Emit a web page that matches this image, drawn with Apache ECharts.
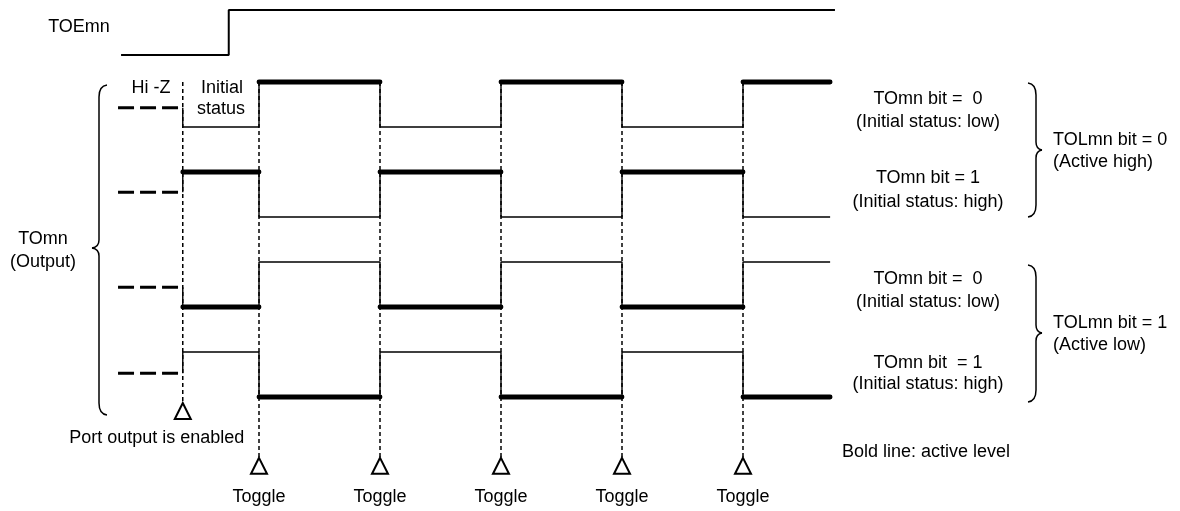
<!DOCTYPE html>
<html>
<head>
<meta charset="utf-8">
<script src="https://cdn.jsdelivr.net/npm/echarts@6/dist/echarts.min.js"></script>
<style>
  html, body { margin: 0; padding: 0; background: #fff; }
  #chart { width: 1180px; height: 511px; }
</style>
</head>
<body>
<div id="chart"></div>
<script>
// time: one toggle period = 1 unit
const toggleTimes = [1, 2, 3, 4, 5];
const enableTime = 0.37;
const endTime = 5.72;

// TOEmn: low from start, goes high at rise, stays to end
const toeTimes = [-0.14, 0.75, 5.76];
const toeLevels = [7.6, 8.6];

// the four TOmn waveforms (top to bottom)
const laneBase = [6, 4, 2, 0];
const initialLevel = [0, 1, 0, 1];
const activeLevel = [1, 1, 0, 0];
const hiZLevel = [0.43, 0.55, 0.44, 0.53];
const hiZStart = -0.165;

const FONT = '"Liberation Sans", Arial, sans-serif';

const series = [];
const addLine = (pts, style, z) => {
  series.push({
    type: 'line', data: pts, z: z, silent: true, symbol: 'none',
    lineStyle: Object.assign({ color: '#000', opacity: 1 }, style)
  });
};

// dashed guides down to the triangles
const guideTop = 7.0;
addLine([[enableTime, guideTop], [enableTime, -0.13]], { width: 1.5, type: [4, 3] }, 1);
toggleTimes.forEach(t => addLine([[t, guideTop], [t, -1.36]], { width: 1.5, type: [4, 3] }, 1));

// TOEmn
addLine([
  [toeTimes[0], toeLevels[0]], [toeTimes[1], toeLevels[0]],
  [toeTimes[1], toeLevels[1]], [toeTimes[2], toeLevels[1]]
], { width: 2 }, 3);

// waveforms
const bounds = [enableTime, ...toggleTimes, endTime];
laneBase.forEach((base, s) => {
  const pts = [[enableTime, base + hiZLevel[s]]];
  for (let i = 0; i < bounds.length - 1; i++) {
    const lvl = (initialLevel[s] + i) % 2;
    pts.push([bounds[i], base + lvl], [bounds[i + 1], base + lvl]);
    if (lvl === activeLevel[s]) {
      addLine([[bounds[i], base + lvl], [bounds[i + 1], base + lvl]], { width: 4.8, cap: 'round' }, 4);
    }
  }
  addLine(pts, { width: 1.4 }, 3);
  addLine([[hiZStart, base + hiZLevel[s]], [enableTime - 0.02, base + hiZLevel[s]]], { width: 3, type: [16, 6] }, 2);
});

// triangles with their labels
const triStyle = { color: '#fff', borderColor: '#000', borderWidth: 2, opacity: 1 };
series.push({
  type: 'scatter', z: 5, clip: false, silent: true,
  symbol: 'triangle', symbolSize: [16, 16],
  itemStyle: triStyle,
  data: [[enableTime, -0.31]],
  label: { show: true, position: 'bottom', distance: 9, offset: [-26, 0],
    formatter: 'Port output is enabled', fontSize: 18, fontFamily: FONT, color: '#000' }
});
series.push({
  type: 'scatter', z: 5, clip: false, silent: true,
  symbol: 'triangle', symbolSize: [16, 16],
  itemStyle: triStyle,
  data: toggleTimes.map(t => [t, -1.53]),
  label: { show: true, position: 'bottom', distance: 13,
    formatter: 'Toggle', fontSize: 18, fontFamily: FONT, color: '#000' }
});

const chart = echarts.init(document.getElementById('chart'));

const txt = (text, x, y, align) => ({
  type: 'text', x: x, y: y, silent: true,
  style: { text: text, font: '18px ' + FONT, fill: '#000',
    textAlign: align || 'center', textVerticalAlign: 'middle' }
});
const stroke = { fill: 'none', stroke: '#000', lineWidth: 1.5 };
const curve = (x1, y1, cx, cy, x2, y2) => ({
  type: 'bezierCurve', silent: true,
  shape: { x1: x1, y1: y1, cpx1: cx, cpy1: cy, x2: x2, y2: y2 }, style: stroke
});
const seg = (x1, y1, x2, y2) => ({
  type: 'line', silent: true, shape: { x1: x1, y1: y1, x2: x2, y2: y2 }, style: stroke
});
// curly brace: end points at (ex, top) and (ex, bottom), spine at sx, tip at tx
const brace = (ex, sx, tx, top, mid, bottom) => [
  curve(ex, top, sx, top + 1, sx, top + 12),
  seg(sx, top + 12, sx, mid - 8),
  curve(sx, mid - 8, sx, mid - 1, tx, mid),
  curve(tx, mid, sx, mid + 1, sx, mid + 8),
  seg(sx, mid + 8, sx, bottom - 12),
  curve(sx, bottom - 12, sx, bottom - 1, ex, bottom)
];

const option = {
  animation: false,
  backgroundColor: '#fff',
  grid: { left: 17, right: 74, top: 1, bottom: 1.5 },
  xAxis: { type: 'value', min: -1, max: 8, show: false },
  yAxis: { type: 'value', min: -2.5, max: 8.8, show: false },
  series: series,
  graphic: [
    txt('TOEmn', 79, 27),
    txt('Hi -Z', 151, 88),
    txt('Initial', 222, 88),
    txt('status', 221, 109),
    txt('TOmn', 43, 239),
    txt('(Output)', 43, 262),
    txt('TOmn bit =  0', 928, 99),
    txt('(Initial status: low)', 928, 122),
    txt('TOmn bit = 1', 928, 178),
    txt('(Initial status: high)', 928, 202),
    txt('TOLmn bit = 0', 1053, 140, 'left'),
    txt('(Active high)', 1053, 162, 'left'),
    txt('TOmn bit =  0', 928, 279),
    txt('(Initial status: low)', 928, 302),
    txt('TOmn bit  = 1', 928, 363),
    txt('(Initial status: high)', 928, 384),
    txt('TOLmn bit = 1', 1053, 323, 'left'),
    txt('(Active low)', 1053, 345, 'left'),
    txt('Bold line: active level', 842, 452, 'left')
  ].concat(
    brace(107, 99, 92, 85, 248, 415),
    brace(1028, 1036, 1042, 83, 150, 217),
    brace(1028, 1036, 1042, 265, 333, 402)
  )
};

chart.setOption(option);
</script>
</body>
</html>
